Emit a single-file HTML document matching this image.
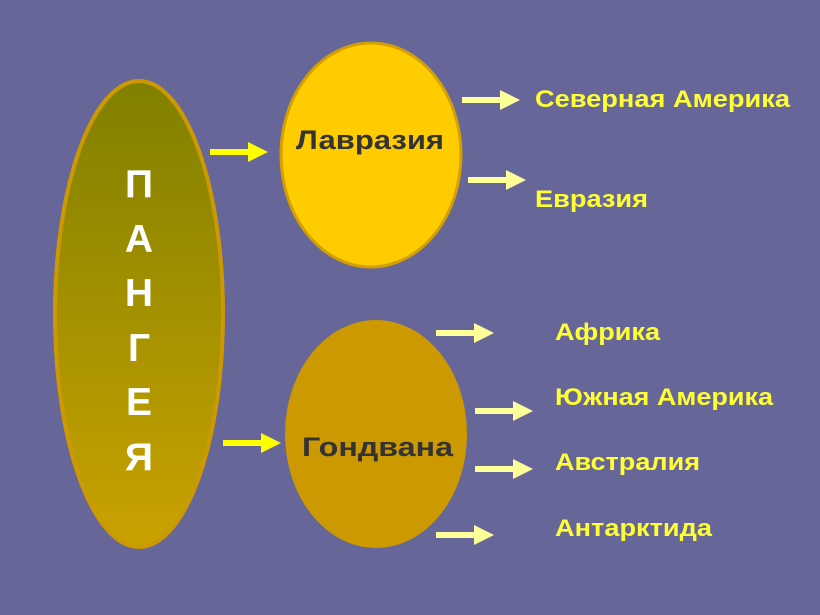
<!DOCTYPE html>
<html><head><meta charset="utf-8"><style>html,body{margin:0;padding:0;background:#666699;}svg{display:block}</style></head>
<body>
<svg width="820" height="615" viewBox="0 0 820 615" xmlns="http://www.w3.org/2000/svg" font-family="Liberation Sans, sans-serif" font-weight="bold">
<defs>
<linearGradient id="g" x1="0" y1="0" x2="0" y2="1">
<stop offset="0" stop-color="#808000"/><stop offset="1" stop-color="#c9a200"/>
</linearGradient>
<g id="ay"><path d="M0,-3 H38 V-10 L58,0 L38,10 V3 H0 Z" fill="#ffff00"/></g>
<g id="ap"><path d="M0,-3 H38 V-10 L58,0 L38,10 V3 H0 Z" fill="#ffff99"/></g>
</defs>
<rect width="820" height="615" fill="#666699"/>
<ellipse cx="139" cy="314" rx="84" ry="233" fill="url(#g)" stroke="#cc9900" stroke-width="4"/>
<ellipse cx="371" cy="155" rx="90" ry="112" fill="#ffcc00" stroke="#d4a000" stroke-width="3"/>
<ellipse cx="376" cy="434" rx="91" ry="114" fill="#cc9900"/>
<g fill="#fff" font-size="39" text-anchor="middle">
<text x="139" y="197">П</text><text x="139" y="252">А</text><text x="139" y="306">Н</text>
<text x="139" y="361">Г</text><text x="139" y="415">Е</text><text x="139" y="470">Я</text>
</g>
<text x="296" y="149" font-size="27" fill="#333333" textLength="148" lengthAdjust="spacingAndGlyphs">Лавразия</text>
<text x="302" y="456" font-size="27" fill="#333333" textLength="151" lengthAdjust="spacingAndGlyphs">Гондвана</text>
<use href="#ay" x="210" y="152"/>
<use href="#ay" x="223" y="443"/>
<use href="#ap" x="462" y="100"/>
<use href="#ap" x="468" y="180"/>
<use href="#ap" x="436" y="333"/>
<use href="#ap" x="475" y="411"/>
<use href="#ap" x="475" y="469"/>
<use href="#ap" x="436" y="535"/>
<g fill="#ffff33" font-size="24">
<text x="535" y="107" textLength="255" lengthAdjust="spacingAndGlyphs">Северная Америка</text>
<text x="535" y="207" textLength="113" lengthAdjust="spacingAndGlyphs">Евразия</text>
<text x="555" y="340" textLength="105" lengthAdjust="spacingAndGlyphs">Африка</text>
<text x="555" y="405" textLength="218" lengthAdjust="spacingAndGlyphs">Южная Америка</text>
<text x="555" y="470" textLength="145" lengthAdjust="spacingAndGlyphs">Австралия</text>
<text x="555" y="536" textLength="157" lengthAdjust="spacingAndGlyphs">Антарктида</text>
</g>
</svg>
</body></html>
